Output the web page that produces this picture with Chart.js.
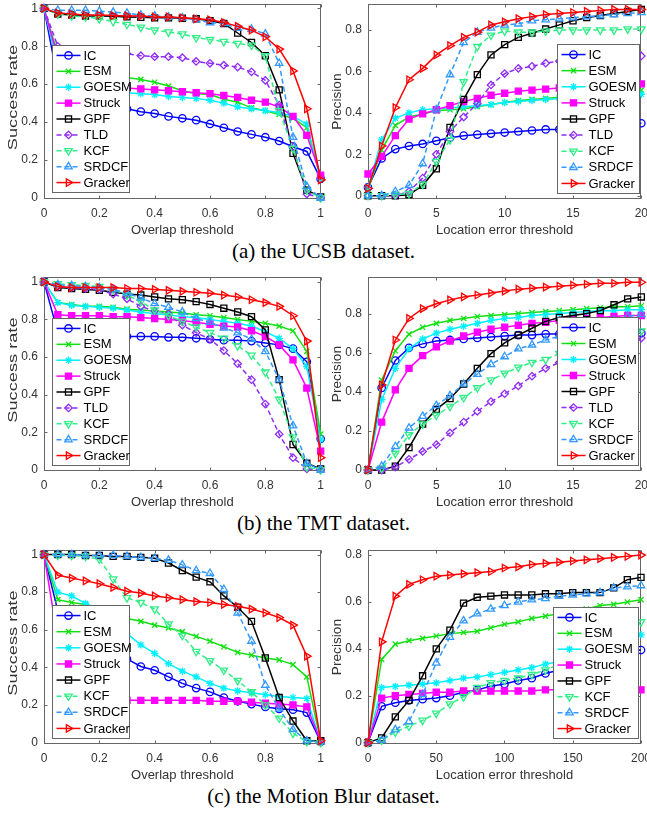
<!DOCTYPE html>
<html>
<head>
<meta charset="utf-8">
<script src="https://cdn.jsdelivr.net/npm/chart.js@4.4.0/dist/chart.umd.min.js"></script>
<style>
html, body { margin: 0; padding: 0; background: #fff; }
#page { position: relative; width: 647px; height: 819px; overflow: hidden; background: #fff; }
#page canvas { position: absolute; }
.cap { position: absolute; left: 0; width: 647px; text-align: center; font-family: "Liberation Serif", "Times New Roman", serif; font-size: 21px; line-height: 24px; color: #000; }
</style>
</head>
<body>
<div id="page">
  <canvas id="ucsbSucc"></canvas>
  <canvas id="ucsbPrec"></canvas>
  <canvas id="tmtSucc"></canvas>
  <canvas id="tmtPrec"></canvas>
  <canvas id="mbSucc"></canvas>
  <canvas id="mbPrec"></canvas>
  <div class="cap" style="top:239px">(a) the UCSB dataset.</div>
  <div class="cap" style="top:511px">(b) the TMT dataset.</div>
  <div class="cap" style="top:784px">(c) the Motion Blur dataset.</div>
</div>
<script>
// ---- data ----
const trackers = ['IC', 'ESM', 'GOESM', 'Struck', 'GPF', 'TLD', 'KCF', 'SRDCF', 'Gracker'];
const trackersMB = ['IC', 'ESM', 'GOESM', 'Struck', 'GPF', 'KCF', 'SRDCF', 'Gracker'];

const overlapX = [0, 0.05, 0.1, 0.15, 0.2, 0.25, 0.3, 0.35, 0.4, 0.45, 0.5, 0.55, 0.6, 0.65, 0.7, 0.75, 0.8, 0.85, 0.9, 0.95, 1];
const locX20 = [0, 1, 2, 3, 4, 5, 6, 7, 8, 9, 10, 11, 12, 13, 14, 15, 16, 17, 18, 19, 20];
const locX200 = [0, 10, 20, 30, 40, 50, 60, 70, 80, 90, 100, 110, 120, 130, 140, 150, 160, 170, 180, 190, 200];

const overlapTicks = [0, 0.2, 0.4, 0.6, 0.8, 1];
const successTicks = [0, 0.2, 0.4, 0.6, 0.8, 1];
const loc20Ticks = [0, 5, 10, 15, 20];
const loc200Ticks = [0, 50, 100, 150, 200];
const precTicks = [0, 0.2, 0.4, 0.6, 0.8];

// UCSB - success rate
const ucsbSuccIC      = [1, 0.62, 0.55, 0.51, 0.49, 0.48, 0.47, 0.455, 0.445, 0.43, 0.42, 0.41, 0.39, 0.37, 0.35, 0.335, 0.32, 0.30, 0.27, 0.245, 0.10];
const ucsbSuccESM     = [1, 0.76, 0.70, 0.68, 0.66, 0.645, 0.635, 0.625, 0.61, 0.59, 0.565, 0.55, 0.545, 0.52, 0.505, 0.475, 0.46, 0.44, 0.42, 0.37, 0.10];
const ucsbSuccGOESM   = [1, 0.70, 0.62, 0.59, 0.575, 0.565, 0.555, 0.55, 0.545, 0.535, 0.53, 0.525, 0.515, 0.50, 0.48, 0.47, 0.46, 0.45, 0.43, 0.39, 0.10];
const ucsbSuccStruck  = [1, 0.74, 0.65, 0.62, 0.60, 0.59, 0.58, 0.575, 0.57, 0.565, 0.56, 0.555, 0.55, 0.54, 0.53, 0.515, 0.505, 0.48, 0.43, 0.33, 0.12];
const ucsbSuccGPF     = [1, 0.97, 0.965, 0.96, 0.96, 0.958, 0.955, 0.953, 0.95, 0.95, 0.948, 0.945, 0.935, 0.92, 0.87, 0.82, 0.75, 0.57, 0.235, 0.04, 0.005];
const ucsbSuccTLD     = [1, 0.80, 0.78, 0.775, 0.77, 0.765, 0.76, 0.75, 0.745, 0.745, 0.74, 0.72, 0.71, 0.70, 0.69, 0.665, 0.62, 0.49, 0.27, 0.02, 0];
const ucsbSuccKCF     = [1, 0.97, 0.96, 0.955, 0.945, 0.93, 0.915, 0.90, 0.885, 0.875, 0.865, 0.845, 0.835, 0.825, 0.815, 0.805, 0.75, 0.46, 0.26, 0.04, 0];
const ucsbSuccSRDCF   = [1, 0.99, 0.99, 0.99, 0.985, 0.98, 0.975, 0.965, 0.96, 0.955, 0.95, 0.94, 0.925, 0.92, 0.895, 0.89, 0.865, 0.71, 0.32, 0.06, 0];
const ucsbSuccGracker = [1, 0.975, 0.97, 0.965, 0.965, 0.962, 0.96, 0.96, 0.955, 0.955, 0.95, 0.945, 0.94, 0.925, 0.905, 0.885, 0.85, 0.785, 0.67, 0.47, 0.095];

// UCSB - precision
const ucsbPrecIC      = [0.04, 0.18, 0.225, 0.24, 0.25, 0.265, 0.28, 0.29, 0.295, 0.30, 0.305, 0.31, 0.315, 0.32, 0.32, 0.325, 0.33, 0.335, 0.34, 0.345, 0.35];
const ucsbPrecESM     = [0.03, 0.22, 0.34, 0.38, 0.395, 0.41, 0.415, 0.42, 0.43, 0.44, 0.45, 0.46, 0.465, 0.47, 0.475, 0.48, 0.485, 0.49, 0.50, 0.505, 0.51];
const ucsbPrecGOESM   = [0.04, 0.27, 0.375, 0.40, 0.415, 0.42, 0.425, 0.43, 0.435, 0.44, 0.45, 0.455, 0.46, 0.465, 0.47, 0.47, 0.475, 0.48, 0.48, 0.485, 0.49];
const ucsbPrecStruck  = [0.105, 0.19, 0.29, 0.37, 0.395, 0.415, 0.435, 0.455, 0.47, 0.485, 0.495, 0.505, 0.51, 0.515, 0.52, 0.52, 0.525, 0.53, 0.53, 0.535, 0.54];
const ucsbPrecGPF     = [0, 0, 0, 0.005, 0.05, 0.13, 0.33, 0.465, 0.585, 0.68, 0.73, 0.765, 0.785, 0.805, 0.825, 0.845, 0.86, 0.87, 0.88, 0.89, 0.90];
const ucsbPrecTLD     = [0, 0, 0, 0.02, 0.085, 0.20, 0.31, 0.38, 0.445, 0.535, 0.59, 0.615, 0.625, 0.64, 0.65, 0.66, 0.665, 0.67, 0.675, 0.675, 0.675];
const ucsbPrecKCF     = [0, 0, 0.005, 0.01, 0.055, 0.165, 0.27, 0.55, 0.72, 0.775, 0.795, 0.79, 0.79, 0.795, 0.80, 0.80, 0.80, 0.80, 0.80, 0.805, 0.805];
const ucsbPrecSRDCF   = [0, 0, 0.02, 0.05, 0.155, 0.415, 0.585, 0.74, 0.79, 0.81, 0.825, 0.83, 0.845, 0.85, 0.855, 0.86, 0.865, 0.87, 0.875, 0.88, 0.885];
const ucsbPrecGracker = [0.035, 0.24, 0.425, 0.56, 0.615, 0.68, 0.725, 0.765, 0.79, 0.825, 0.84, 0.855, 0.865, 0.875, 0.88, 0.885, 0.89, 0.895, 0.90, 0.90, 0.90];

// TMT - success rate
const tmtSuccIC      = [1, 0.73, 0.72, 0.715, 0.715, 0.715, 0.71, 0.71, 0.71, 0.705, 0.705, 0.70, 0.695, 0.69, 0.69, 0.685, 0.675, 0.665, 0.645, 0.575, 0.165];
const tmtSuccESM     = [1, 0.89, 0.88, 0.87, 0.87, 0.865, 0.855, 0.85, 0.845, 0.84, 0.835, 0.825, 0.82, 0.81, 0.80, 0.79, 0.78, 0.765, 0.74, 0.63, 0.19];
const tmtSuccGOESM   = [1, 0.89, 0.875, 0.87, 0.865, 0.86, 0.85, 0.84, 0.83, 0.825, 0.815, 0.81, 0.80, 0.79, 0.78, 0.765, 0.735, 0.70, 0.645, 0.55, 0.16];
const tmtSuccStruck  = [1, 0.825, 0.82, 0.82, 0.82, 0.815, 0.815, 0.81, 0.805, 0.80, 0.795, 0.785, 0.775, 0.765, 0.76, 0.74, 0.71, 0.665, 0.585, 0.435, 0.10];
const tmtSuccGPF     = [1, 0.97, 0.965, 0.96, 0.955, 0.945, 0.935, 0.93, 0.92, 0.91, 0.905, 0.895, 0.88, 0.86, 0.84, 0.815, 0.745, 0.48, 0.135, 0.035, 0.005];
const tmtSuccTLD     = [1, 0.975, 0.97, 0.965, 0.96, 0.935, 0.91, 0.87, 0.845, 0.83, 0.77, 0.73, 0.695, 0.635, 0.565, 0.48, 0.35, 0.19, 0.065, 0.005, 0];
const tmtSuccKCF     = [1, 0.99, 0.985, 0.98, 0.975, 0.96, 0.93, 0.895, 0.85, 0.82, 0.79, 0.76, 0.73, 0.70, 0.66, 0.61, 0.52, 0.375, 0.175, 0.015, 0];
const tmtSuccSRDCF   = [1, 0.985, 0.98, 0.975, 0.97, 0.96, 0.94, 0.915, 0.885, 0.865, 0.84, 0.805, 0.785, 0.755, 0.73, 0.695, 0.63, 0.48, 0.235, 0.035, 0];
const tmtSuccGracker = [1, 0.975, 0.97, 0.97, 0.97, 0.97, 0.965, 0.965, 0.96, 0.955, 0.95, 0.945, 0.94, 0.93, 0.92, 0.905, 0.89, 0.87, 0.82, 0.685, 0.065];

// TMT - precision
const tmtPrecIC      = [0, 0.42, 0.56, 0.625, 0.645, 0.66, 0.665, 0.67, 0.675, 0.68, 0.685, 0.69, 0.69, 0.695, 0.695, 0.695, 0.70, 0.70, 0.70, 0.70, 0.70];
const tmtPrecESM     = [0, 0.46, 0.61, 0.695, 0.73, 0.75, 0.765, 0.775, 0.785, 0.79, 0.795, 0.80, 0.805, 0.81, 0.815, 0.82, 0.825, 0.83, 0.835, 0.835, 0.84];
const tmtPrecGOESM   = [0, 0.36, 0.52, 0.62, 0.67, 0.70, 0.72, 0.735, 0.75, 0.765, 0.775, 0.78, 0.79, 0.795, 0.80, 0.805, 0.81, 0.815, 0.815, 0.82, 0.82];
const tmtPrecStruck  = [0, 0.245, 0.41, 0.52, 0.585, 0.63, 0.66, 0.685, 0.705, 0.72, 0.73, 0.74, 0.75, 0.755, 0.765, 0.77, 0.775, 0.78, 0.785, 0.79, 0.79];
const tmtPrecGPF     = [0, 0, 0.02, 0.115, 0.235, 0.31, 0.365, 0.44, 0.52, 0.595, 0.65, 0.69, 0.725, 0.76, 0.78, 0.79, 0.80, 0.815, 0.845, 0.875, 0.885];
const tmtPrecTLD     = [0, 0, 0.015, 0.055, 0.095, 0.13, 0.19, 0.245, 0.30, 0.35, 0.39, 0.43, 0.48, 0.52, 0.55, 0.58, 0.605, 0.63, 0.65, 0.665, 0.675];
const tmtPrecKCF     = [0, 0.01, 0.085, 0.18, 0.235, 0.28, 0.325, 0.37, 0.42, 0.46, 0.495, 0.525, 0.55, 0.565, 0.595, 0.62, 0.64, 0.665, 0.685, 0.70, 0.71];
const tmtPrecSRDCF   = [0, 0.02, 0.12, 0.215, 0.275, 0.33, 0.38, 0.44, 0.49, 0.54, 0.58, 0.62, 0.64, 0.665, 0.685, 0.705, 0.725, 0.745, 0.765, 0.785, 0.795];
const tmtPrecGracker = [0, 0.435, 0.665, 0.775, 0.825, 0.85, 0.87, 0.885, 0.895, 0.905, 0.915, 0.925, 0.93, 0.935, 0.94, 0.945, 0.95, 0.955, 0.955, 0.96, 0.96];

// Motion Blur - success rate
const mbSuccIC      = [1, 0.70, 0.60, 0.55, 0.50, 0.47, 0.445, 0.405, 0.385, 0.35, 0.315, 0.29, 0.27, 0.24, 0.22, 0.205, 0.19, 0.18, 0.175, 0.16, 0.005];
const mbSuccESM     = [1, 0.76, 0.745, 0.735, 0.715, 0.685, 0.66, 0.645, 0.625, 0.61, 0.59, 0.565, 0.54, 0.51, 0.48, 0.465, 0.45, 0.44, 0.415, 0.35, 0.01];
const mbSuccGOESM   = [1, 0.80, 0.78, 0.74, 0.71, 0.64, 0.58, 0.52, 0.475, 0.42, 0.38, 0.35, 0.315, 0.29, 0.275, 0.265, 0.255, 0.245, 0.24, 0.235, 0.005];
const mbSuccStruck  = [1, 0.55, 0.35, 0.28, 0.25, 0.235, 0.225, 0.225, 0.225, 0.225, 0.225, 0.225, 0.22, 0.22, 0.22, 0.215, 0.21, 0.205, 0.20, 0.19, 0.01];
const mbSuccGPF     = [1, 1, 1, 0.995, 0.995, 0.99, 0.99, 0.985, 0.98, 0.955, 0.915, 0.88, 0.855, 0.78, 0.72, 0.645, 0.45, 0.24, 0.115, 0.01, 0.01];
const mbSuccKCF     = [1, 0.995, 0.995, 0.99, 0.975, 0.87, 0.77, 0.745, 0.71, 0.63, 0.57, 0.485, 0.435, 0.385, 0.33, 0.27, 0.20, 0.13, 0.05, 0.005, 0];
const mbSuccSRDCF   = [1, 1, 1, 0.995, 0.995, 0.995, 0.99, 0.985, 0.98, 0.97, 0.945, 0.915, 0.90, 0.815, 0.69, 0.54, 0.305, 0.18, 0.07, 0.01, 0.005];
const mbSuccGracker = [1, 0.89, 0.875, 0.86, 0.845, 0.825, 0.805, 0.795, 0.78, 0.77, 0.76, 0.75, 0.745, 0.735, 0.725, 0.71, 0.69, 0.665, 0.625, 0.46, 0.01];

// Motion Blur - precision
const mbPrecIC      = [0, 0.155, 0.17, 0.18, 0.185, 0.19, 0.20, 0.215, 0.225, 0.24, 0.25, 0.265, 0.275, 0.295, 0.31, 0.325, 0.34, 0.355, 0.37, 0.385, 0.395];
const mbPrecESM     = [0, 0.355, 0.42, 0.435, 0.445, 0.455, 0.465, 0.47, 0.475, 0.49, 0.505, 0.515, 0.53, 0.54, 0.55, 0.56, 0.57, 0.585, 0.59, 0.60, 0.61];
const mbPrecGOESM   = [0, 0.235, 0.24, 0.245, 0.25, 0.255, 0.265, 0.275, 0.28, 0.29, 0.30, 0.31, 0.32, 0.335, 0.345, 0.36, 0.375, 0.39, 0.41, 0.435, 0.46];
const mbPrecStruck  = [0, 0.19, 0.20, 0.205, 0.21, 0.215, 0.215, 0.22, 0.22, 0.22, 0.22, 0.22, 0.22, 0.225, 0.225, 0.225, 0.225, 0.225, 0.225, 0.225, 0.225];
const mbPrecGPF     = [0, 0.02, 0.11, 0.18, 0.285, 0.40, 0.48, 0.595, 0.62, 0.625, 0.63, 0.63, 0.63, 0.635, 0.635, 0.64, 0.64, 0.64, 0.66, 0.695, 0.705];
const mbPrecKCF     = [0, 0.01, 0.045, 0.07, 0.095, 0.125, 0.165, 0.195, 0.235, 0.255, 0.265, 0.275, 0.29, 0.31, 0.335, 0.36, 0.39, 0.42, 0.45, 0.485, 0.515];
const mbPrecSRDCF   = [0, 0.01, 0.055, 0.09, 0.205, 0.34, 0.45, 0.52, 0.55, 0.57, 0.585, 0.60, 0.61, 0.615, 0.625, 0.63, 0.635, 0.64, 0.66, 0.665, 0.67];
const mbPrecGracker = [0, 0.43, 0.625, 0.675, 0.695, 0.71, 0.715, 0.72, 0.725, 0.73, 0.745, 0.75, 0.76, 0.765, 0.77, 0.775, 0.78, 0.785, 0.79, 0.795, 0.80];

// ---- styles ----
const FONT = '"Liberation Sans", Arial, Helvetica, sans-serif';
const TEXT = '#333';
const AXIS = '#666';
const look = {
  IC:      { color: '#0000ff', point: 'circle',   fill: false, dash: [],     rot: 0 },
  ESM:     { color: '#12e012', point: 'crossRot', fill: false, dash: [],     rot: 0 },
  GOESM:   { color: '#00f0ff', point: 'star',     fill: false, dash: [],     rot: 0 },
  Struck:  { color: '#ff00ff', point: 'rect',     fill: true,  dash: [],     rot: 0 },
  GPF:     { color: '#000000', point: 'rect',     fill: false, dash: [],     rot: 0 },
  TLD:     { color: '#8f2cf5', point: 'rectRot',  fill: false, dash: [5, 3], rot: 0 },
  KCF:     { color: '#33ee88', point: 'triangle', fill: false, dash: [5, 3], rot: 180 },
  SRDCF:   { color: '#3399ff', point: 'triangle', fill: false, dash: [5, 3], rot: 0 },
  Gracker: { color: '#ff0000', point: 'triangle', fill: false, dash: [],     rot: 90 }
};

function buildSets(names, xs, series) {
  return names.map((name, i) => {
    const s = look[name];
    return {
      label: name,
      data: xs.map((x, j) => ({ x: x, y: series[i][j] })),
      borderColor: s.color,
      backgroundColor: s.fill ? s.color : 'rgba(0,0,0,0)',
      borderWidth: 1.5,
      borderDash: s.dash,
      pointStyle: s.point,
      pointRotation: s.rot,
      pointRadius: s.point === 'triangle' ? 4.3 : (s.point === 'rect' ? 4.3 : 3.7),
      pointBorderWidth: 1.3,
      pointBorderColor: s.color,
      pointBackgroundColor: s.fill ? s.color : 'rgba(0,0,0,0)',
      tension: 0,
      fill: false,
      clip: false,
      order: names.length - i
    };
  });
}

// box with inward ticks on all four sides, like a MATLAB axes
const boxAxes = {
  id: 'boxAxes',
  beforeDatasetsDraw(chart, args, opts) {
    const { ctx, chartArea: a } = chart;
    const xs = chart.scales.x, ys = chart.scales.y;
    const L = Math.round(a.left) + 0.5, R = Math.round(a.right) - 0.5;
    const T = Math.round(a.top) + 0.5, B = Math.round(a.bottom) - 0.5;
    ctx.save();
    ctx.strokeStyle = AXIS;
    ctx.lineWidth = 1;
    ctx.strokeRect(L, T, R - L, B - T);
    ctx.beginPath();
    opts.xTicks.forEach(v => {
      const px = Math.round(xs.getPixelForValue(v)) + 0.5;
      ctx.moveTo(px, B); ctx.lineTo(px, B - 3);
      ctx.moveTo(px, T); ctx.lineTo(px, T + 3);
    });
    opts.yTicks.forEach(v => {
      const py = Math.round(ys.getPixelForValue(v)) + 0.5;
      ctx.moveTo(L, py); ctx.lineTo(L + 3, py);
      ctx.moveTo(R, py); ctx.lineTo(R - 3, py);
    });
    ctx.stroke();
    ctx.restore();
  }
};

// vertical axis title; the source figure has it stretched along its length
const yTitle = {
  id: 'yTitle',
  afterDraw(chart, args, opts) {
    const { ctx, chartArea: a } = chart;
    ctx.save();
    ctx.translate(a.left - 31, (a.top + a.bottom) / 2 - opts.shift);
    ctx.rotate(-Math.PI / 2);
    ctx.scale(opts.stretch, 1);
    ctx.font = '13px ' + FONT;
    ctx.fillStyle = TEXT;
    ctx.textAlign = 'center';
    ctx.textBaseline = 'middle';
    ctx.fillText(opts.text, 0, 0);
    ctx.restore();
  }
};

// legend box placed inside the plot area
const boxLegend = {
  id: 'boxLegend',
  afterDatasetsDraw(chart, args, opts) {
    const { ctx, chartArea: a } = chart;
    const lg = opts.box;
    const x0 = Math.round(a.left + lg.x - opts.area.left) + 0.5;
    const y0 = Math.round(a.top + lg.y - opts.area.top) + 0.5;
    ctx.save();
    ctx.fillStyle = '#fff';
    ctx.fillRect(x0, y0, lg.w, lg.h);
    ctx.strokeStyle = AXIS;
    ctx.lineWidth = 1;
    ctx.strokeRect(x0, y0, lg.w, lg.h);
    const sets = chart.data.datasets;
    const step = (lg.h - 4) / sets.length;
    sets.forEach((ds, i) => {
      const cy = y0 + 2 + step * (i + 0.5);
      ctx.save();
      ctx.strokeStyle = ds.borderColor;
      ctx.lineWidth = ds.borderWidth;
      ctx.setLineDash(ds.borderDash);
      ctx.beginPath();
      ctx.moveTo(x0 + 4, cy); ctx.lineTo(x0 + 28, cy);
      ctx.stroke();
      ctx.setLineDash([]);
      ctx.fillStyle = ds.pointBackgroundColor;
      ctx.lineWidth = ds.pointBorderWidth;
      Chart.helpers.drawPoint(ctx, {
        pointStyle: ds.pointStyle, radius: ds.pointRadius,
        rotation: ds.pointRotation, borderWidth: ds.pointBorderWidth
      }, x0 + 16, cy);
      ctx.restore();
      ctx.fillStyle = '#000';
      ctx.font = '13px ' + FONT;
      ctx.textBaseline = 'middle';
      ctx.textAlign = 'left';
      ctx.fillText(ds.label, x0 + 31, cy + 0.5);
    });
    ctx.restore();
  }
};

function makeChart(cfg) {
  const canvas = document.getElementById(cfg.id);
  const area = cfg.area;
  const aw = area.right - area.left, ah = area.bottom - area.top;
  const w0 = aw + 80, h0 = ah + 80;
  canvas.width = w0; canvas.height = h0;
  canvas.style.width = w0 + 'px'; canvas.style.height = h0 + 'px';

  const chart = new Chart(canvas, {
    type: 'line',
    data: { datasets: buildSets(cfg.names, cfg.xs, cfg.series) },
    options: {
      responsive: false,
      maintainAspectRatio: false,
      animation: false,
      devicePixelRatio: 1,
      layout: { padding: 0 },
      plugins: {
        legend: { display: false },
        tooltip: { enabled: false },
        boxAxes: { xTicks: cfg.xTicks, yTicks: cfg.yTicks },
        boxLegend: { box: cfg.legend, area: area },
        yTitle: { text: cfg.yTitle, stretch: cfg.yStretch, shift: cfg.yShift }
      },
      scales: {
        x: {
          type: 'linear',
          min: cfg.xs[0],
          max: cfg.xs[cfg.xs.length - 1],
          afterBuildTicks: s => { s.ticks = cfg.xTicks.map(v => ({ value: v })); },
          afterFit: s => { s.height = 39; },
          grid: { display: false, drawTicks: false },
          border: { display: false },
          ticks: { padding: 7, color: TEXT, font: { family: FONT, size: 12 }, maxRotation: 0, autoSkip: false, callback: v => String(v) },
          title: { display: true, text: cfg.xTitle, color: TEXT, font: { family: FONT, size: 13 }, padding: 0 }
        },
        y: {
          type: 'linear',
          min: cfg.yMin,
          max: cfg.yMax,
          afterBuildTicks: s => { s.ticks = cfg.yTicks.map(v => ({ value: v })); },
          afterFit: s => { s.width = 39; },
          grid: { display: false, drawTicks: false },
          border: { display: false },
          ticks: { padding: 6, color: TEXT, font: { family: FONT, size: 12 }, autoSkip: false, callback: v => String(v) },
          title: { display: false }
        }
      }
    },
    plugins: [boxAxes, boxLegend, yTitle]
  });

  let a = chart.chartArea;
  const nw = Math.round(aw + (w0 - (a.right - a.left)));
  const nh = Math.round(ah + (h0 - (a.bottom - a.top)));
  chart.resize(nw, nh);
  a = chart.chartArea;
  canvas.style.left = (area.left - a.left) + 'px';
  canvas.style.top = (area.top - a.top) + 'px';
  return chart;
}

makeChart({
  id: 'ucsbSucc', area: { left: 44, right: 321, top: 4, bottom: 199 },
  names: trackers, xs: overlapX,
  series: [ucsbSuccIC, ucsbSuccESM, ucsbSuccGOESM, ucsbSuccStruck, ucsbSuccGPF, ucsbSuccTLD, ucsbSuccKCF, ucsbSuccSRDCF, ucsbSuccGracker],
  xTicks: overlapTicks, yTicks: successTicks, yMin: -0.006, yMax: 1.022,
  xTitle: 'Overlap threshold', yTitle: 'Success rate', yStretch: 1.4, yShift: 4,
  legend: { x: 52, y: 45, w: 77, h: 147 }
});
makeChart({
  id: 'ucsbPrec', area: { left: 368, right: 641, top: 4, bottom: 199 },
  names: trackers, xs: locX20,
  series: [ucsbPrecIC, ucsbPrecESM, ucsbPrecGOESM, ucsbPrecStruck, ucsbPrecGPF, ucsbPrecTLD, ucsbPrecKCF, ucsbPrecSRDCF, ucsbPrecGracker],
  xTicks: loc20Ticks, yTicks: precTicks, yMin: -0.016, yMax: 0.925,
  xTitle: 'Location error threshold', yTitle: 'Precision', yStretch: 1.05, yShift: 0,
  legend: { x: 557, y: 44, w: 82, h: 149 }
});
makeChart({
  id: 'tmtSucc', area: { left: 44, right: 321, top: 277, bottom: 471 },
  names: trackers, xs: overlapX,
  series: [tmtSuccIC, tmtSuccESM, tmtSuccGOESM, tmtSuccStruck, tmtSuccGPF, tmtSuccTLD, tmtSuccKCF, tmtSuccSRDCF, tmtSuccGracker],
  xTicks: overlapTicks, yTicks: successTicks, yMin: -0.006, yMax: 1.025,
  xTitle: 'Overlap threshold', yTitle: 'Success rate', yStretch: 1.4, yShift: 4,
  legend: { x: 52, y: 318, w: 77, h: 147 }
});
makeChart({
  id: 'tmtPrec', area: { left: 368, right: 641, top: 277, bottom: 471 },
  names: trackers, xs: locX20,
  series: [tmtPrecIC, tmtPrecESM, tmtPrecGOESM, tmtPrecStruck, tmtPrecGPF, tmtPrecTLD, tmtPrecKCF, tmtPrecSRDCF, tmtPrecGracker],
  xTicks: loc20Ticks, yTicks: precTicks, yMin: -0.005, yMax: 0.986,
  xTitle: 'Location error threshold', yTitle: 'Precision', yStretch: 1.05, yShift: 0,
  legend: { x: 557, y: 317, w: 81, h: 148 }
});
makeChart({
  id: 'mbSucc', area: { left: 44, right: 321, top: 550, bottom: 744 },
  names: trackersMB, xs: overlapX,
  series: [mbSuccIC, mbSuccESM, mbSuccGOESM, mbSuccStruck, mbSuccGPF, mbSuccKCF, mbSuccSRDCF, mbSuccGracker],
  xTicks: overlapTicks, yTicks: successTicks, yMin: -0.007, yMax: 1.023,
  xTitle: 'Overlap threshold', yTitle: 'Success rate', yStretch: 1.4, yShift: 4,
  legend: { x: 52, y: 605, w: 77, h: 133 }
});
makeChart({
  id: 'mbPrec', area: { left: 368, right: 641, top: 550, bottom: 744 },
  names: trackersMB, xs: locX200,
  series: [mbPrecIC, mbPrecESM, mbPrecGOESM, mbPrecStruck, mbPrecGPF, mbPrecKCF, mbPrecSRDCF, mbPrecGracker],
  xTicks: loc200Ticks, yTicks: precTicks, yMin: -0.006, yMax: 0.821,
  xTitle: 'Location error threshold', yTitle: 'Precision', yStretch: 1.05, yShift: 0,
  legend: { x: 553, y: 607, w: 85, h: 131 }
});
</script>
</body>
</html>
